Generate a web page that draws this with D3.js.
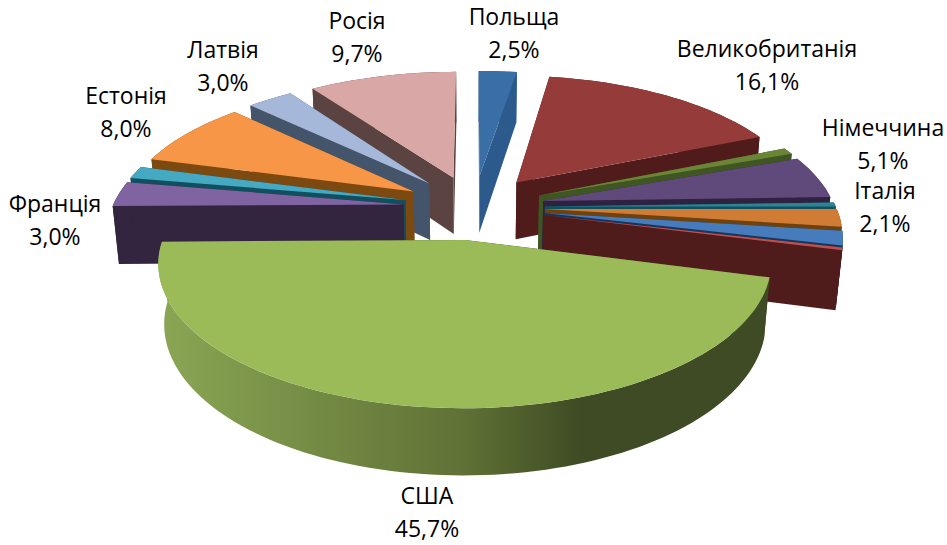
<!DOCTYPE html>
<html>
<head>
  <meta charset="utf-8">
  <script src="https://d3js.org/d3.v7.min.js"></script>
  <style>
    html, body { margin: 0; background: #fff; }
    text { font-family: "Open Sans", sans-serif; font-size: 23px; fill: #000; text-anchor: middle; }
  </style>
</head>
<body>
<svg width="947" height="545">
  <defs id="defs"></defs>
  <g id="slices"></g>
  <g id="labels"></g>
</svg>
<script>
// clockwise from 12 o'clock; the empty names are the thin slices that have no label in the picture
const names = ["Польща", "Великобританія", "", "Німеччина", "", "Італія", "", "", "США", "Франція", "", "Естонія", "Латвія", "Росія"];
const shares = [2.5, 16.1, 0.8, 5.1, 0.5, 2.1, 1.7, 0.3, 45.7, 3.0, 1.5, 8.0, 3.0, 9.7];
const shareText = ["2,5%", "16,1%", "", "5,1%", "", "2,1%", "", "", "45,7%", "3,0%", "", "8,0%", "3,0%", "9,7%"];

const topColors = ["#3a6ea6", "#953c3a", "#6a8535", "#604a7b", "#2d8496", "#d17c34", "#467cbc", "#c0504d", "#9bbb59", "#8063a1", "#45a9c2", "#f79646", "#a6b8da", "#d9a7a6"];
const sideColors = ["#2d5a8c", "#4f1c1b", "#3f5522", "#2f2240", "#10505f", "#6e420f", "#17365d", "#4f1c1b", "#3f4b24", "#33253f", "#124f5e", "#7c4a10", "#44546a", "#5a4340"];

// USA outer wall shading
const wallStops = [[0, "#8aa654"], [0.5, "#5f7135"], [0.69, "#3f4b24"], [1, "#3f4b24"]];

// label anchor [x, first baseline]
const labelAt = [[514, 25], [767, 57], null, [883, 136], null, [885, 199], null, null, [427, 504], [55, 212], null, [126, 104], [223, 58], [357, 29]];

const radius = 291, explode = 71, thickness = 66;
const cx = 474, cy = 207;
// camera: elevation and distance
const sinE = 0.449, cosE = 0.8935, camD = 1670;

// plane coords: X right, Y away from viewer, Z up (top of the pie is Z = 0)
function project(X, Y, Z = 0) {
  let d = camD + cosE * Y - sinE * Z;
  return [cx + camD * X / d, cy - camD * (sinE * Y + cosE * Z) / d];
}
const drop = (X, Y) => project(X, Y, -thickness);

const pie = d3.pie().sort(null).value(d => d);
const arcs = pie(shares);
const line = d3.line();

const grad = d3.select("#defs").append("linearGradient")
  .attr("id", "wall")
  .attr("gradientUnits", "userSpaceOnUse")
  .attr("x1", 160).attr("x2", 770).attr("y1", 0).attr("y2", 0);
grad.selectAll("stop").data(wallStops).enter().append("stop")
  .attr("offset", d => d[0])
  .attr("stop-color", d => d[1]);

function sliceGeom(a, i) {
  let mid = (a.startAngle + a.endAngle) / 2;
  let ox = explode * Math.sin(mid), oy = explode * Math.cos(mid);
  let n = Math.max(2, Math.ceil((a.endAngle - a.startAngle) / 0.03));
  let rim = d3.range(n + 1).map(k => {
    let t = a.startAngle + (a.endAngle - a.startAngle) * k / n;
    return [ox + radius * Math.sin(t), oy + radius * Math.cos(t)];
  });
  return { i, mid, apex: [ox, oy], rim };
}

let geoms = arcs.map(sliceGeom);
// far slices first, so the nearer ones paint over them
geoms.sort((a, b) => {
  let da = Math.abs(Math.atan2(Math.sin(a.mid), Math.cos(a.mid)));
  let db = Math.abs(Math.atan2(Math.sin(b.mid), Math.cos(b.mid)));
  return da - db;
});

let g = d3.select("#slices").selectAll("g").data(geoms).enter().append("g");

g.each(function (d) {
  let s = d3.select(this);
  let first = d.rim[0], last = d.rim[d.rim.length - 1];
  let side = sideColors[d.i];
  let face = p => [project(...d.apex), project(...p), drop(...p), drop(...d.apex)];

  s.append("path").attr("d", line(face(first)) + "Z").attr("fill", side);
  s.append("path").attr("d", line(face(last)) + "Z").attr("fill", side);

  let wall = d.rim.map(p => project(...p)).concat(d.rim.slice().reverse().map(p => drop(...p)));
  s.append("path").attr("d", line(wall) + "Z")
    .attr("fill", names[d.i] == "США" ? "url(#wall)" : side);

  let top = [project(...d.apex)].concat(d.rim.map(p => project(...p)));
  s.append("path").attr("d", line(top) + "Z").attr("fill", topColors[d.i]);
});

let labels = d3.select("#labels").selectAll("text")
  .data(names.map((n, i) => ({ n, pct: shareText[i], at: labelAt[i] })).filter(d => d.at))
  .enter().append("text");

labels.append("tspan").attr("x", d => d.at[0]).attr("y", d => d.at[1]).text(d => d.n);
labels.append("tspan").attr("x", d => d.at[0]).attr("y", d => d.at[1] + 33).text(d => d.pct);
</script>
</body>
</html>
